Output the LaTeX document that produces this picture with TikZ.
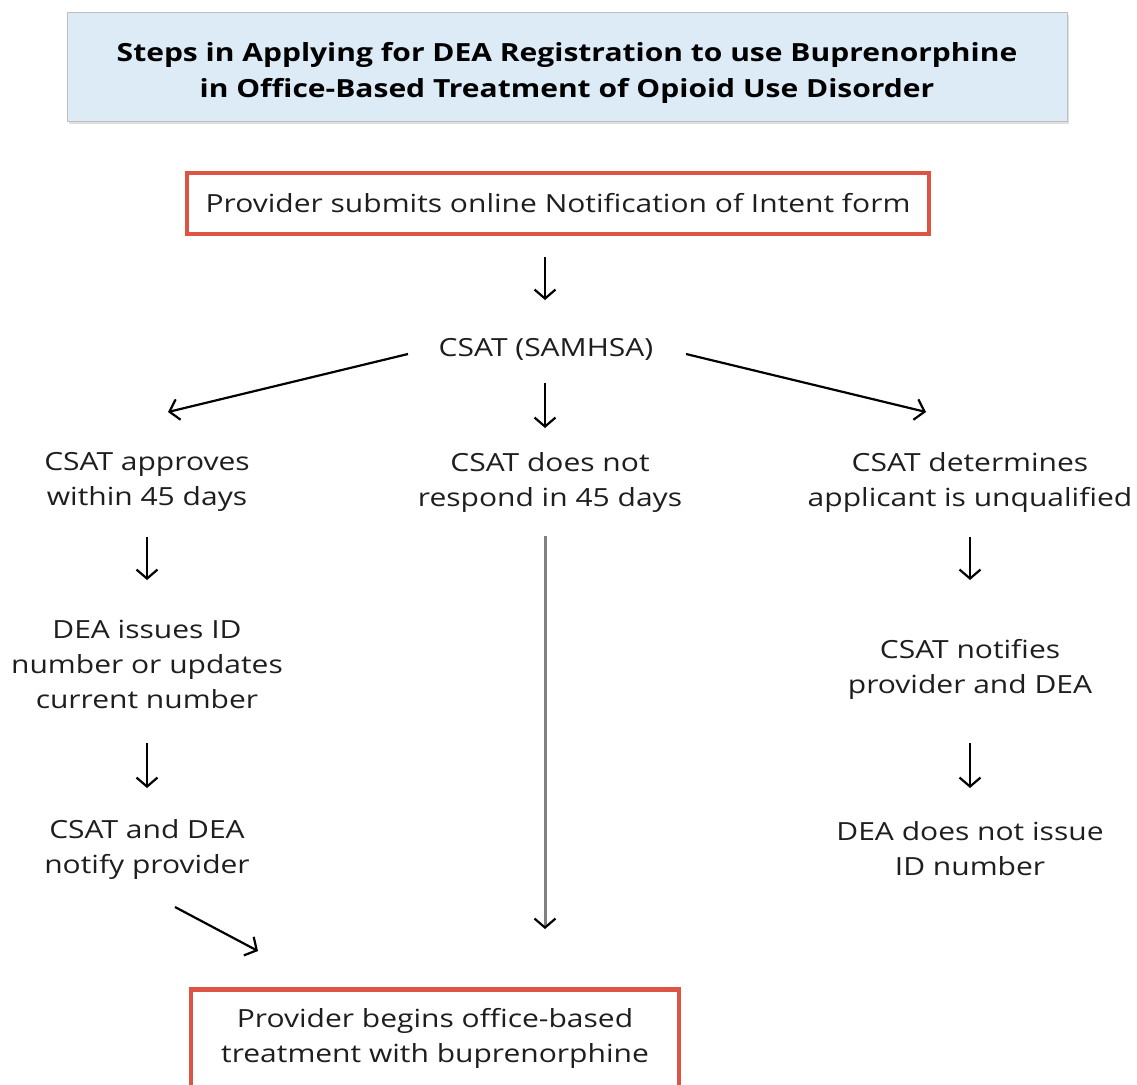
\documentclass[tikz,border=0pt]{standalone}
\usepackage{fontspec}
\setmainfont{Open Sans}[FakeStretch=1.2]
\usetikzlibrary{arrows.meta,shadows}
\definecolor{boxred}{HTML}{DD5444}
\definecolor{titlefill}{HTML}{DCEBF6}
\definecolor{txtcol}{HTML}{1E1E1E}
\tikzset{
  txt/.style={align=center, inner sep=0pt, text=txtcol, font=\fontsize{25}{35}\selectfont},
  redbox/.style={draw=boxred, line width=4.5pt, fill=white},
  arr/.style={line width=2.2pt, -{Straight Barb[length=9pt,width=21pt,line width=2.2pt]}},
  grayarr/.style={line width=3pt, draw=black!50, -{Straight Barb[length=9pt,width=21pt,line width=2.2pt,color=black]}}
}
\begin{document}
\begin{tikzpicture}[x=1pt,y=-1pt]
\clip (0,0) rectangle (1137,1084);
\fill[white] (0,0) rectangle (1137,1084);
% title
\node[draw=black!25, fill=titlefill, line width=1.5pt, minimum width=1000pt, minimum height=109pt,
      drop shadow={opacity=0.25, shadow xshift=1.5pt, shadow yshift=-2pt}] (titlebox) at (567.5,67) {};
\node[align=center, inner sep=0pt, text=black, font=\bfseries\fontsize{25}{36}\selectfont] (title) at (567,72.5)
  {Steps in Applying for DEA Registration to use Buprenorphine\\in Office-Based Treatment of Opioid Use Disorder};
% top box
\node[redbox, minimum width=742pt, minimum height=61pt, txt] (notify) at (558,203.5)
  {Provider submits online Notification of Intent form};
\node[txt] (csat) at (546,349) {CSAT (SAMHSA)};
\node[txt] (approve) at (147,482) {CSAT approves\\within 45 days};
\node[txt] (noresp) at (550,482) {CSAT does not\\respond in 45 days};
\node[txt] (unqual) at (970,482) {CSAT determines\\applicant is unqualified};
\node[txt] (issue) at (147,664) {DEA issues ID\\number or updates\\current number};
\node[txt] (notifyprov) at (147,849.5) {CSAT and DEA\\notify provider};
\node[txt] (csatnot) at (970,669) {CSAT notifies\\provider and DEA};
\node[txt] (noissue) at (970,848.5) {DEA does not issue\\ID number};
\node[redbox, minimum width=488pt, minimum height=200pt, anchor=north] (endbox) at (435,987) {};
\node[txt] (endtxt) at (435,1038.5) {Provider begins office-based\\treatment with buprenorphine};
% arrow endpoints
\coordinate (n1) at (545,257); \coordinate (c1) at (545,300);
\coordinate (c2) at (408,354); \coordinate (a1) at (168,412);
\coordinate (c3) at (686,354); \coordinate (u1) at (926,412);
\coordinate (c4) at (545,383); \coordinate (r1) at (545,428);
\coordinate (a2) at (147,537); \coordinate (i1) at (147,580);
\coordinate (i2) at (147,743); \coordinate (p1) at (147,788);
\coordinate (p2) at (175,907); \coordinate (e1) at (258,951);
\coordinate (r2) at (545,536); \coordinate (e2) at (545,929);
\coordinate (u2) at (970,537); \coordinate (s1) at (970,580);
\coordinate (s2) at (970,743); \coordinate (d1) at (970,788);
\draw[arr] (n1) -- (c1);
\draw[arr] (c2) -- (a1);
\draw[arr] (c3) -- (u1);
\draw[arr] (c4) -- (r1);
\draw[arr] (a2) -- (i1);
\draw[arr] (i2) -- (p1);
\draw[arr] (p2) -- (e1);
\draw[grayarr] (r2) -- (e2);
\draw[arr] (u2) -- (s1);
\draw[arr] (s2) -- (d1);
\end{tikzpicture}
\end{document}
